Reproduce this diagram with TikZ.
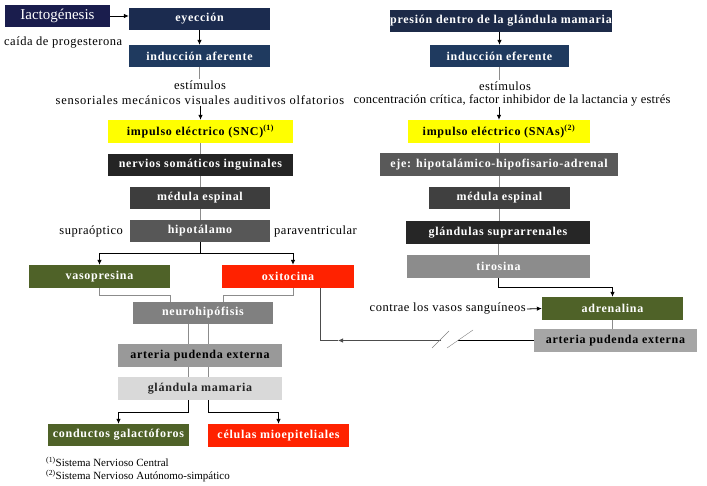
\documentclass[tikz,border=0pt]{standalone}
\usepackage{fontspec}
\setmainfont{Liberation Serif}
\newfontfamily\boxfont{Liberation Serif}[LetterSpace=6]
\newfontfamily\labfont{Liberation Serif}[LetterSpace=4]
\newfontfamily\labwide{Liberation Serif}[LetterSpace=6]
\newfontfamily\labtight{Liberation Serif}[LetterSpace=1.8]
\usepackage{tikz}
\usetikzlibrary{arrows.meta, calc}
\usepackage{xcolor}
\definecolor{navyA}{HTML}{1A1D4D}
\definecolor{navyB}{HTML}{1B2B4F}
\definecolor{navyC}{HTML}{1F3A5F}
\definecolor{navyD}{HTML}{1C2A48}
\definecolor{yel}{HTML}{FFFF00}
\definecolor{olive}{HTML}{4F6228}
\definecolor{redox}{HTML}{FF2200}

\begin{document}
\begin{tikzpicture}[x=1pt, y=-1pt,
  box/.style={rectangle, inner sep=0pt, minimum height=22pt, text=white,
    font=\boxfont\bfseries\fontsize{12}{14}\selectfont},
  lab/.style={inner sep=1pt, font=\labfont\fontsize{12.5}{14}\selectfont},
  link/.style={draw=black!45, line width=0.8pt},
  arr/.style={draw=black, line width=0.8pt, -{Latex[length=5pt,width=4.5pt]}}]
  \useasboundingbox (0,0) rectangle (707,486);
  % left column
  \node[box, fill=navyA, minimum width=105pt, font=\fontsize{15}{17}\selectfont] (lacto) at (57.5,16) {Iactogénesis};
  \node[box, fill=navyB, minimum width=141pt] (eyecc) at (199.5,19) {eyección};
  \node[box, fill=navyC, minimum width=141pt] (indaf) at (199.5,56) {inducción aferente};
  \node[lab, anchor=west] (caida) at (3,43) {caída de progesterona};
  \node[lab] (estL1) at (200,85) {estímulos};
  \node[lab, font=\labwide\fontsize{12.5}{14}\selectfont] (estL2) at (200,100) {sensoriales mecánicos visuales auditivos olfatorios};
  \node[box, fill=yel, text=black, minimum width=185pt, minimum height=23pt] (snc) at (200.5,131.5) {impulso eléctrico (SNC)\textsuperscript{(1)}};
  \node[box, fill=black!86, minimum width=185pt] (nerv) at (200.5,165) {nervios somáticos inguinales};
  \node[box, fill=black!76, minimum width=140pt] (medL) at (200,198) {médula espinal};
  \node[box, fill=black!66, minimum width=140pt] (hipo) at (200,231) {hipotálamo};
  \node[lab, anchor=east] (supra) at (124,231) {supraóptico};
  \node[lab, anchor=west] (parav) at (273,231) {paraventricular};
  \node[box, fill=olive, minimum width=141pt, minimum height=23pt] (vaso) at (99.5,276.5) {vasopresina};
  \node[box, fill=redox, minimum width=132pt, minimum height=23pt] (oxi) at (288,276.5) {oxitocina};
  \node[box, fill=black!50, minimum width=140pt] (neuro) at (203,313) {neurohipófisis};
  \node[box, fill=black!40, text=black, minimum width=164pt, minimum height=23pt] (artL) at (200,355.5) {arteria pudenda externa};
  \node[box, fill=black!15, text=black!85, minimum width=164pt, minimum height=23pt] (glam) at (200,388.5) {glándula mamaria};
  \node[box, fill=olive, minimum width=141pt] (cond) at (118.5,435) {conductos galactóforos};
  \node[box, fill=redox, minimum width=141pt, minimum height=23pt] (celu) at (278.5,435.5) {células mioepiteliales};
  \node[lab, anchor=west, font=\fontsize{11}{12}\selectfont] (fnA) at (45,462) {\textsuperscript{(1)}Sistema Nervioso Central};
  \node[lab, anchor=west, font=\fontsize{11}{12}\selectfont] (fnB) at (45,476) {\textsuperscript{(2)}Sistema Nervioso Autónomo-simpático};
  % right column
  \node[box, fill=navyD, minimum width=216pt] (pres) at (501,21) {presión dentro de la glándula mamaria};
  \node[box, fill=navyC, minimum width=139pt] (indef) at (499.5,56) {inducción eferente};
  \node[lab] (estR1) at (505,86) {estímulos};
  \node[lab, font=\labtight\fontsize{12.5}{14}\selectfont] (estR2) at (512,100) {concentración crítica, factor inhibidor de la lactancia y estrés};
  \node[box, fill=yel, text=black, minimum width=182pt, minimum height=23pt] (snas) at (499,131.5) {impulso eléctrico (SNAs)\textsuperscript{(2)}};
  \node[box, fill=black!65, minimum width=238pt, minimum height=23pt] (eje) at (499,164.5) {eje: hipotalámico-hipofisario-adrenal};
  \node[box, fill=black!75, minimum width=141pt] (medR) at (499.5,198) {médula espinal};
  \node[box, fill=black!85, minimum width=184pt, minimum height=23pt] (glsup) at (498,232.5) {glándulas suprarrenales};
  \node[box, fill=black!45, minimum width=183pt, minimum height=23pt] (tiro) at (498.5,266.5) {tirosina};
  \node[box, fill=olive, minimum width=141pt, minimum height=23pt] (adre) at (612.5,308.5) {adrenalina};
  \node[lab, anchor=east] (contr) at (527,309) {contrae los vasos sanguíneos};
  \node[box, fill=black!35, text=black, minimum width=163pt, minimum height=23pt] (artR) at (615.5,340.5) {arteria pudenda externa};
  % connectors, left
  \coordinate (lnA) at (188,0);
  \coordinate (lnB) at (208,0);
  \coordinate (splitH) at (200,253);
  \draw[arr] (lacto.east) -- (lacto.east -| eyecc.west);
  \draw[arr] (eyecc.south) -- (indaf.north);
  \draw[link] (indaf.south) -- (indaf.south |- estL1.north);
  \draw[arr] (snc.north |- estL2.south) -- (snc.north);
  \draw[link] (snc.south) -- (snc.south |- nerv.north);
  \draw[link] (nerv.south) -- (nerv.south |- medL.north);
  \draw[link] (medL.south) -- (hipo.north);
  \draw[arr] (hipo.south) -- (splitH) -| (vaso.north);
  \draw[arr] (splitH) -| ([xshift=5pt]oxi.north);
  \draw[link] (vaso.south) -- ++(0,7) -| ([xshift=-33pt]neuro.north);
  \draw[link] ([xshift=5pt]oxi.south) -- ++(0,7) -| ([xshift=20pt]neuro.north);
  \draw[link] (lnA |- neuro.south) -- (lnA |- artL.north);
  \draw[link] (lnB |- neuro.south) -- (lnB |- artL.north);
  \draw[link] (lnA |- artL.south) -- (lnA |- glam.north);
  \draw[link] (lnB |- artL.south) -- (lnB |- glam.north);
  \draw[arr] (lnA |- glam.south) -- ++(0,12) -| (cond.north);
  \draw[arr] (lnB |- glam.south) -- ++(0,12) -| (celu.north);
  % connectors, right
  \draw[arr] (indef.north |- pres.south) -- (indef.north);
  \draw[link] (indef.south) -- (indef.south |- estR1.north);
  \draw[arr] (snas.north |- estR2.south) -- (snas.north);
  \draw[link] (snas.south) -- (snas.south |- eje.north);
  \draw[link] (eje.south) -- (eje.south |- medR.north);
  \draw[link] (medR.south) -- (medR.south |- glsup.north);
  \draw[link] (glsup.south) -- (glsup.south |- tiro.north);
  \draw[arr] (tiro.south) -- ++(0,9) -| (adre.north);
  \draw[arr] (contr.east) -- (adre.west);
  \draw[link] (adre.south) -- (adre.south |- artR.north);
  % back to oxitocina
  \coordinate (brkR) at (458,340.5);
  \coordinate (brkL) at (441,340.5);
  \coordinate (tipX) at (338,340.5);
  \coordinate (cornr) at (320,340.5);
  \draw[line width=0.8pt] (artR.west) -- (brkR);
  \draw[arr, draw=black!70] (brkL) -- (tipX);
  \draw[line width=0.8pt, black!70] (tipX) -- (cornr) -- (cornr |- oxi.south);
  \draw[black!50] (432,348) -- (449,331);
  \draw[black!50] (447,348) -- (473,330);
\end{tikzpicture}
\end{document}
